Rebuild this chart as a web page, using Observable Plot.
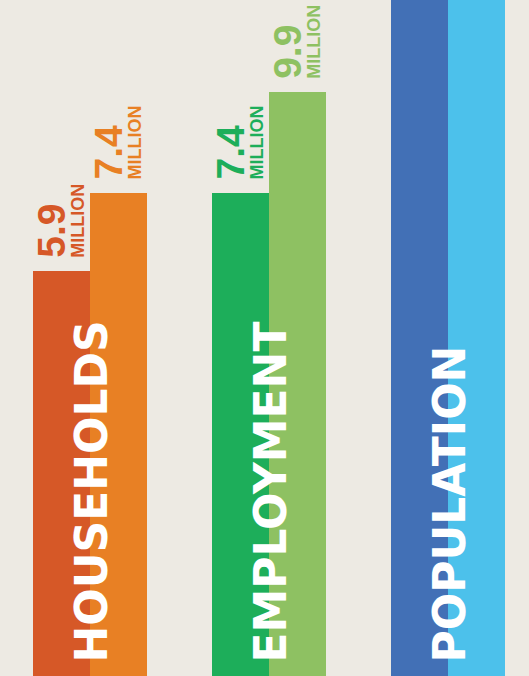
<!DOCTYPE html>
<html>
<head>
<meta charset="utf-8">
<script src="https://cdn.jsdelivr.net/npm/d3@7"></script>
<script src="https://cdn.jsdelivr.net/npm/@observablehq/plot@0.6"></script>
<style>
  html, body { margin: 0; padding: 0; background: #edeae3; overflow: hidden; }
  #chart svg { display: block; }
</style>
</head>
<body>
<div id="chart"></div>
<script>
// ---- data ----
const groups = ["HOUSEHOLDS", "EMPLOYMENT", "POPULATION"];
const years = ["2012", "2040"];
const households = [5.9, 7.4];
const employment = [7.4, 9.9];
const population = [18.3, 22.1];
const labelledGroups = ["HOUSEHOLDS", "EMPLOYMENT"];
const unitLabel = "MILLION";

// ---- palette (one colour per group/year) ----
const palette = ["#d65827", "#e88024", "#1dae5a", "#8ec162", "#4270b6", "#4cc1eb"];

const seriesByGroup = [households, employment, population];
const rows = [];
groups.forEach((g, i) => years.forEach((yr, j) => rows.push({
  group: g, year: yr, value: seriesByGroup[i][j], key: g + " " + yr
})));
const keys = rows.map(d => d.key);
const labels = rows.filter(d => labelledGroups.includes(d.group));

// the infographic is not drawn to a linear scale; a log scale fits it closely
const yDomain = [1.83, 12.93];

const chart = Plot.plot({
  width: 529,
  height: 676,
  marginTop: 0,
  marginRight: 24,
  marginBottom: 0,
  marginLeft: 32,
  style: { background: "#edeae3" },
  fx: { domain: groups, paddingInner: 0.365, paddingOuter: 0, axis: null, label: null },
  x: { domain: years, padding: 0, axis: null },
  y: { type: "log", domain: yDomain, clamp: true, axis: null },
  color: { domain: keys, range: palette },
  marks: [
    Plot.barY(rows, {
      fx: "group", x: "year", y1: yDomain[0], y2: "value",
      fill: "key", inset: 0, shapeRendering: "crispEdges"
    }),
    Plot.text(labels, {
      fx: "group", x: "year", y: "value",
      text: d => d.value.toFixed(1),
      fill: "key", rotate: -90, textAnchor: "start", lineAnchor: "middle",
      dx: -9.5, dy: -14,
      fontSize: 39, fontWeight: "bold", fontFamily: "Liberation Sans"
    }),
    Plot.text(labels, {
      fx: "group", x: "year", y: "value",
      text: () => unitLabel,
      fill: "key", rotate: -90, textAnchor: "start", lineAnchor: "middle",
      dx: 16.5, dy: -14,
      fontSize: 18, fontWeight: "bold", fontFamily: "Liberation Sans"
    }),
    Plot.text(groups, {
      fx: d => d, frameAnchor: "bottom", text: d => d,
      rotate: -90, textAnchor: "start", lineAnchor: "middle",
      dx: 2, dy: -14, fill: "white",
      fontSize: 44, fontWeight: "bold", fontFamily: "DejaVu Sans"
    })
  ]
});
document.getElementById("chart").appendChild(chart);
</script>
</body>
</html>
